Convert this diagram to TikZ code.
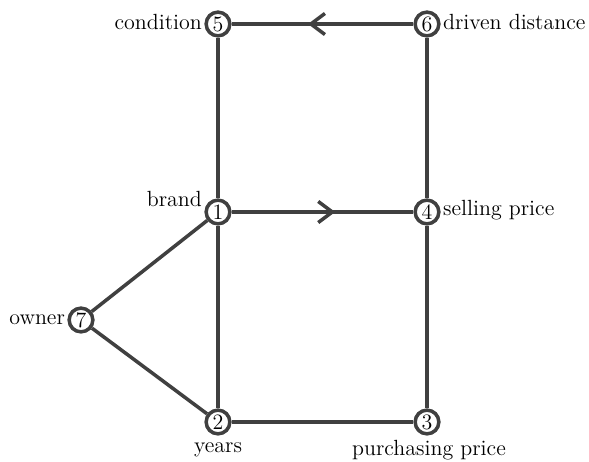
\documentclass[tikz,border=0pt]{standalone}
\usetikzlibrary{arrows.meta,decorations.markings}
\tikzset{
  vertex/.style={circle,draw=black!75,line width=2pt,fill=white,inner sep=0pt,minimum size=13.5pt,font=\fontsize{12.5}{13}\selectfont},
  edge/.style={draw=black!75,line width=2pt},
  midarrow/.style={postaction={decorate},decoration={markings,
    mark=at position #1 with {\arrow{Straight Barb[length=8pt,width=12pt,line width=2pt]}}}},
  lbl/.style={font=\fontsize{12.5}{13}\selectfont,inner sep=1pt}
}
\begin{document}
\begin{tikzpicture}[x=0.02cm,y=-0.02cm]
	\useasboundingbox (0,0) rectangle (589,462);
	
	% Knoten
	\node[vertex] (brand) at (218,212) {1};
	\node[vertex] (years) at (218,422) {2};
	\node[vertex] (purch) at (427,422) {3};
	\node[vertex] (sell) at (427,212) {4};
	\node[vertex] (cond) at (218,24) {5};
	\node[vertex] (dist) at (427,24) {6};
	\node[vertex] (owner) at (81,320) {7};
	
	% Kanten
	\draw[edge,midarrow=0.58] (dist) -- (cond);
	\draw[edge,midarrow=0.57] (brand) -- (sell);
	\draw[edge] (cond) -- (brand);
	\draw[edge] (dist) -- (sell);
	\draw[edge] (sell) -- (purch);
	\draw[edge] (brand) -- (years);
	\draw[edge] (years) -- (purch);
	\draw[edge] (brand) -- (owner);
	\draw[edge] (owner) -- (years);
	
	% Beschriftungen
	\node[lbl,anchor=east] (lcond) at (204,22) {condition};
	\node[lbl,anchor=west] (ldist) at (441,22) {driven distance};
	\node[lbl,anchor=east] (lbrand) at (204,199) {brand};
	\node[lbl,anchor=west] (lsell) at (441,210) {selling price};
	\node[lbl,anchor=east] (lowner) at (67,320) {owner};
	\node[lbl] (lyears) at (218,450) {years};
	\node[lbl] (lpurch) at (429,450) {purchasing price};
\end{tikzpicture}
\end{document}
